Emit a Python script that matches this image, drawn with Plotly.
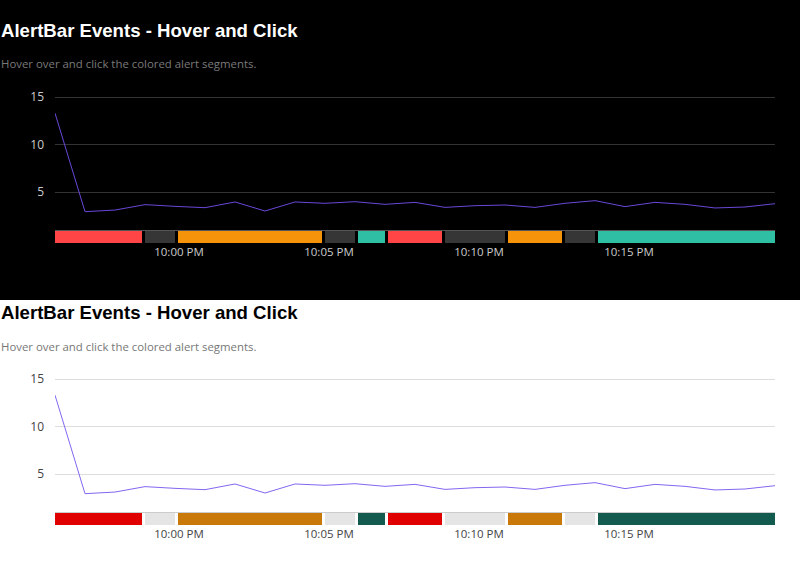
import plotly.graph_objects as go
import pandas as pd

# Zeitreihe (eine Messung pro Minute)
times = [
    "2024-01-01 21:55:52", "2024-01-01 21:56:52", "2024-01-01 21:57:52", "2024-01-01 21:58:52",
    "2024-01-01 21:59:52", "2024-01-01 22:00:52", "2024-01-01 22:01:52", "2024-01-01 22:02:52",
    "2024-01-01 22:03:52", "2024-01-01 22:04:52", "2024-01-01 22:05:52", "2024-01-01 22:06:52",
    "2024-01-01 22:07:52", "2024-01-01 22:08:52", "2024-01-01 22:09:52", "2024-01-01 22:10:52",
    "2024-01-01 22:11:52", "2024-01-01 22:12:52", "2024-01-01 22:13:52", "2024-01-01 22:14:52",
    "2024-01-01 22:15:52", "2024-01-01 22:16:52", "2024-01-01 22:17:52", "2024-01-01 22:18:52",
    "2024-01-01 22:19:52",
]
values = [13.3, 2.93, 3.1, 3.67, 3.49, 3.35, 3.95, 3.0, 3.95, 3.81, 3.98, 3.7, 3.91,
          3.38, 3.56, 3.63, 3.38, 3.81, 4.09, 3.46, 3.91, 3.7, 3.32, 3.42, 3.77]

# Alert-Segmente
seg_start = ["2024-01-01 21:55:52", "2024-01-01 21:58:52", "2024-01-01 21:59:58", "2024-01-01 22:04:52",
             "2024-01-01 22:05:58", "2024-01-01 22:06:58", "2024-01-01 22:08:52", "2024-01-01 22:10:58",
             "2024-01-01 22:12:52", "2024-01-01 22:13:58"]
seg_end = ["2024-01-01 21:58:46", "2024-01-01 21:59:52", "2024-01-01 22:04:46", "2024-01-01 22:05:52",
           "2024-01-01 22:06:52", "2024-01-01 22:08:46", "2024-01-01 22:10:52", "2024-01-01 22:12:46",
           "2024-01-01 22:13:52", "2024-01-01 22:19:52"]
seg_level = ["critical", "none", "warning", "none", "ok", "critical", "none", "warning", "none", "ok"]

title = "AlertBar Events - Hover and Click"
subtitle = "Hover over and click the colored alert segments."

themes = [
    dict(off=0, line="#6a48d8", grid="#333333", tick="#cccccc", sub="#7a7a7a", title="#ffffff",
         base="#555555",
         colors={"critical": "#ff4545", "none": "#363636", "warning": "#f5930b", "ok": "#2ebfa5"}),
    dict(off=282, line="#8466f0", grid="#dddddd", tick="#444444", sub="#777777", title="#000000",
         base="#cccccc",
         colors={"critical": "#e00000", "none": "#e5e5e5", "warning": "#c8790a", "ok": "#135a4f"}),
]

W, H = 800, 563


def py(px):
    # Pixel von oben -> Papierkoordinate
    return 1 - px / H


st = pd.to_datetime(seg_start)
en = pd.to_datetime(seg_end)
widths = [(e - s).total_seconds() * 1000 for s, e in zip(st, en)]

fig = go.Figure()
layout = {}
annotations = []
for i, th in enumerate(themes):
    o = th["off"]
    n1, n2 = 2 * i + 1, 2 * i + 2
    k1 = "" if n1 == 1 else str(n1)
    k2 = str(n2)
    fig.add_trace(go.Scatter(x=times, y=values, mode="lines", line=dict(color=th["line"], width=1),
                             xaxis="x" + k1, yaxis="y" + k1, showlegend=False))
    fig.add_trace(go.Bar(x=seg_start, y=[1] * len(seg_start), width=widths, offset=0,
                         marker=dict(color=[th["colors"][l] for l in seg_level], line=dict(width=0)),
                         customdata=seg_level, hovertemplate="%{customdata}<extra></extra>",
                         xaxis="x" + k2, yaxis="y" + k2, showlegend=False))
    rng = [times[0], times[-1]]
    layout["xaxis" + k1] = dict(domain=[55 / W, 775 / W], range=rng, type="date", showgrid=False,
                                showticklabels=False, zeroline=False, showline=True,
                                linecolor=th["base"], linewidth=1, anchor="y" + k1)
    layout["yaxis" + k1] = dict(domain=[py(230 + o), py(88 + o)], range=[1, 15.95], tickvals=[5, 10, 15],
                                gridcolor=th["grid"], gridwidth=1, zeroline=False, ticklabelstandoff=10,
                                anchor="x" + k1,
                                tickfont=dict(family="Open Sans", size=12, color=th["tick"]))
    layout["xaxis" + k2] = dict(domain=[55 / W, 775 / W], range=rng, type="date", showgrid=False,
                                zeroline=False, tick0="2024-01-01 22:00", dtick=300000,
                                tickformat="%-I:%M %p", ticks="", anchor="y" + k2,
                                tickfont=dict(family="Open Sans", size=11.5, color=th["tick"]))
    layout["yaxis" + k2] = dict(domain=[py(243 + o), py(231 + o)], range=[0, 1], visible=False,
                                anchor="x" + k2)
    annotations.append(dict(text=f"<b>{title}</b>", x=0, y=py(30 + o), xref="paper", yref="paper",
                            xanchor="left", yanchor="middle", showarrow=False, xshift=-1,
                            font=dict(family="Liberation Sans", size=18.6, color=th["title"])))
    annotations.append(dict(text=subtitle, x=0, y=py(64 + o), xref="paper", yref="paper",
                            xanchor="left", yanchor="middle", showarrow=False, xshift=-1,
                            font=dict(family="Open Sans", size=11.4, color=th["sub"])))

fig.update_layout(
    width=W, height=H,
    margin=dict(l=0, r=0, t=0, b=0),
    paper_bgcolor="white", plot_bgcolor="rgba(0,0,0,0)",
    annotations=annotations,
    shapes=[dict(type="rect", xref="paper", yref="paper", x0=0, x1=1, y0=py(300), y1=1,
                 fillcolor="#000000", line=dict(width=0), layer="below")],
    bargap=0,
    **layout,
)

fig.write_html("out.html", config={"displayModeBar": False},
               post_script="document.body.style.margin='0';")
